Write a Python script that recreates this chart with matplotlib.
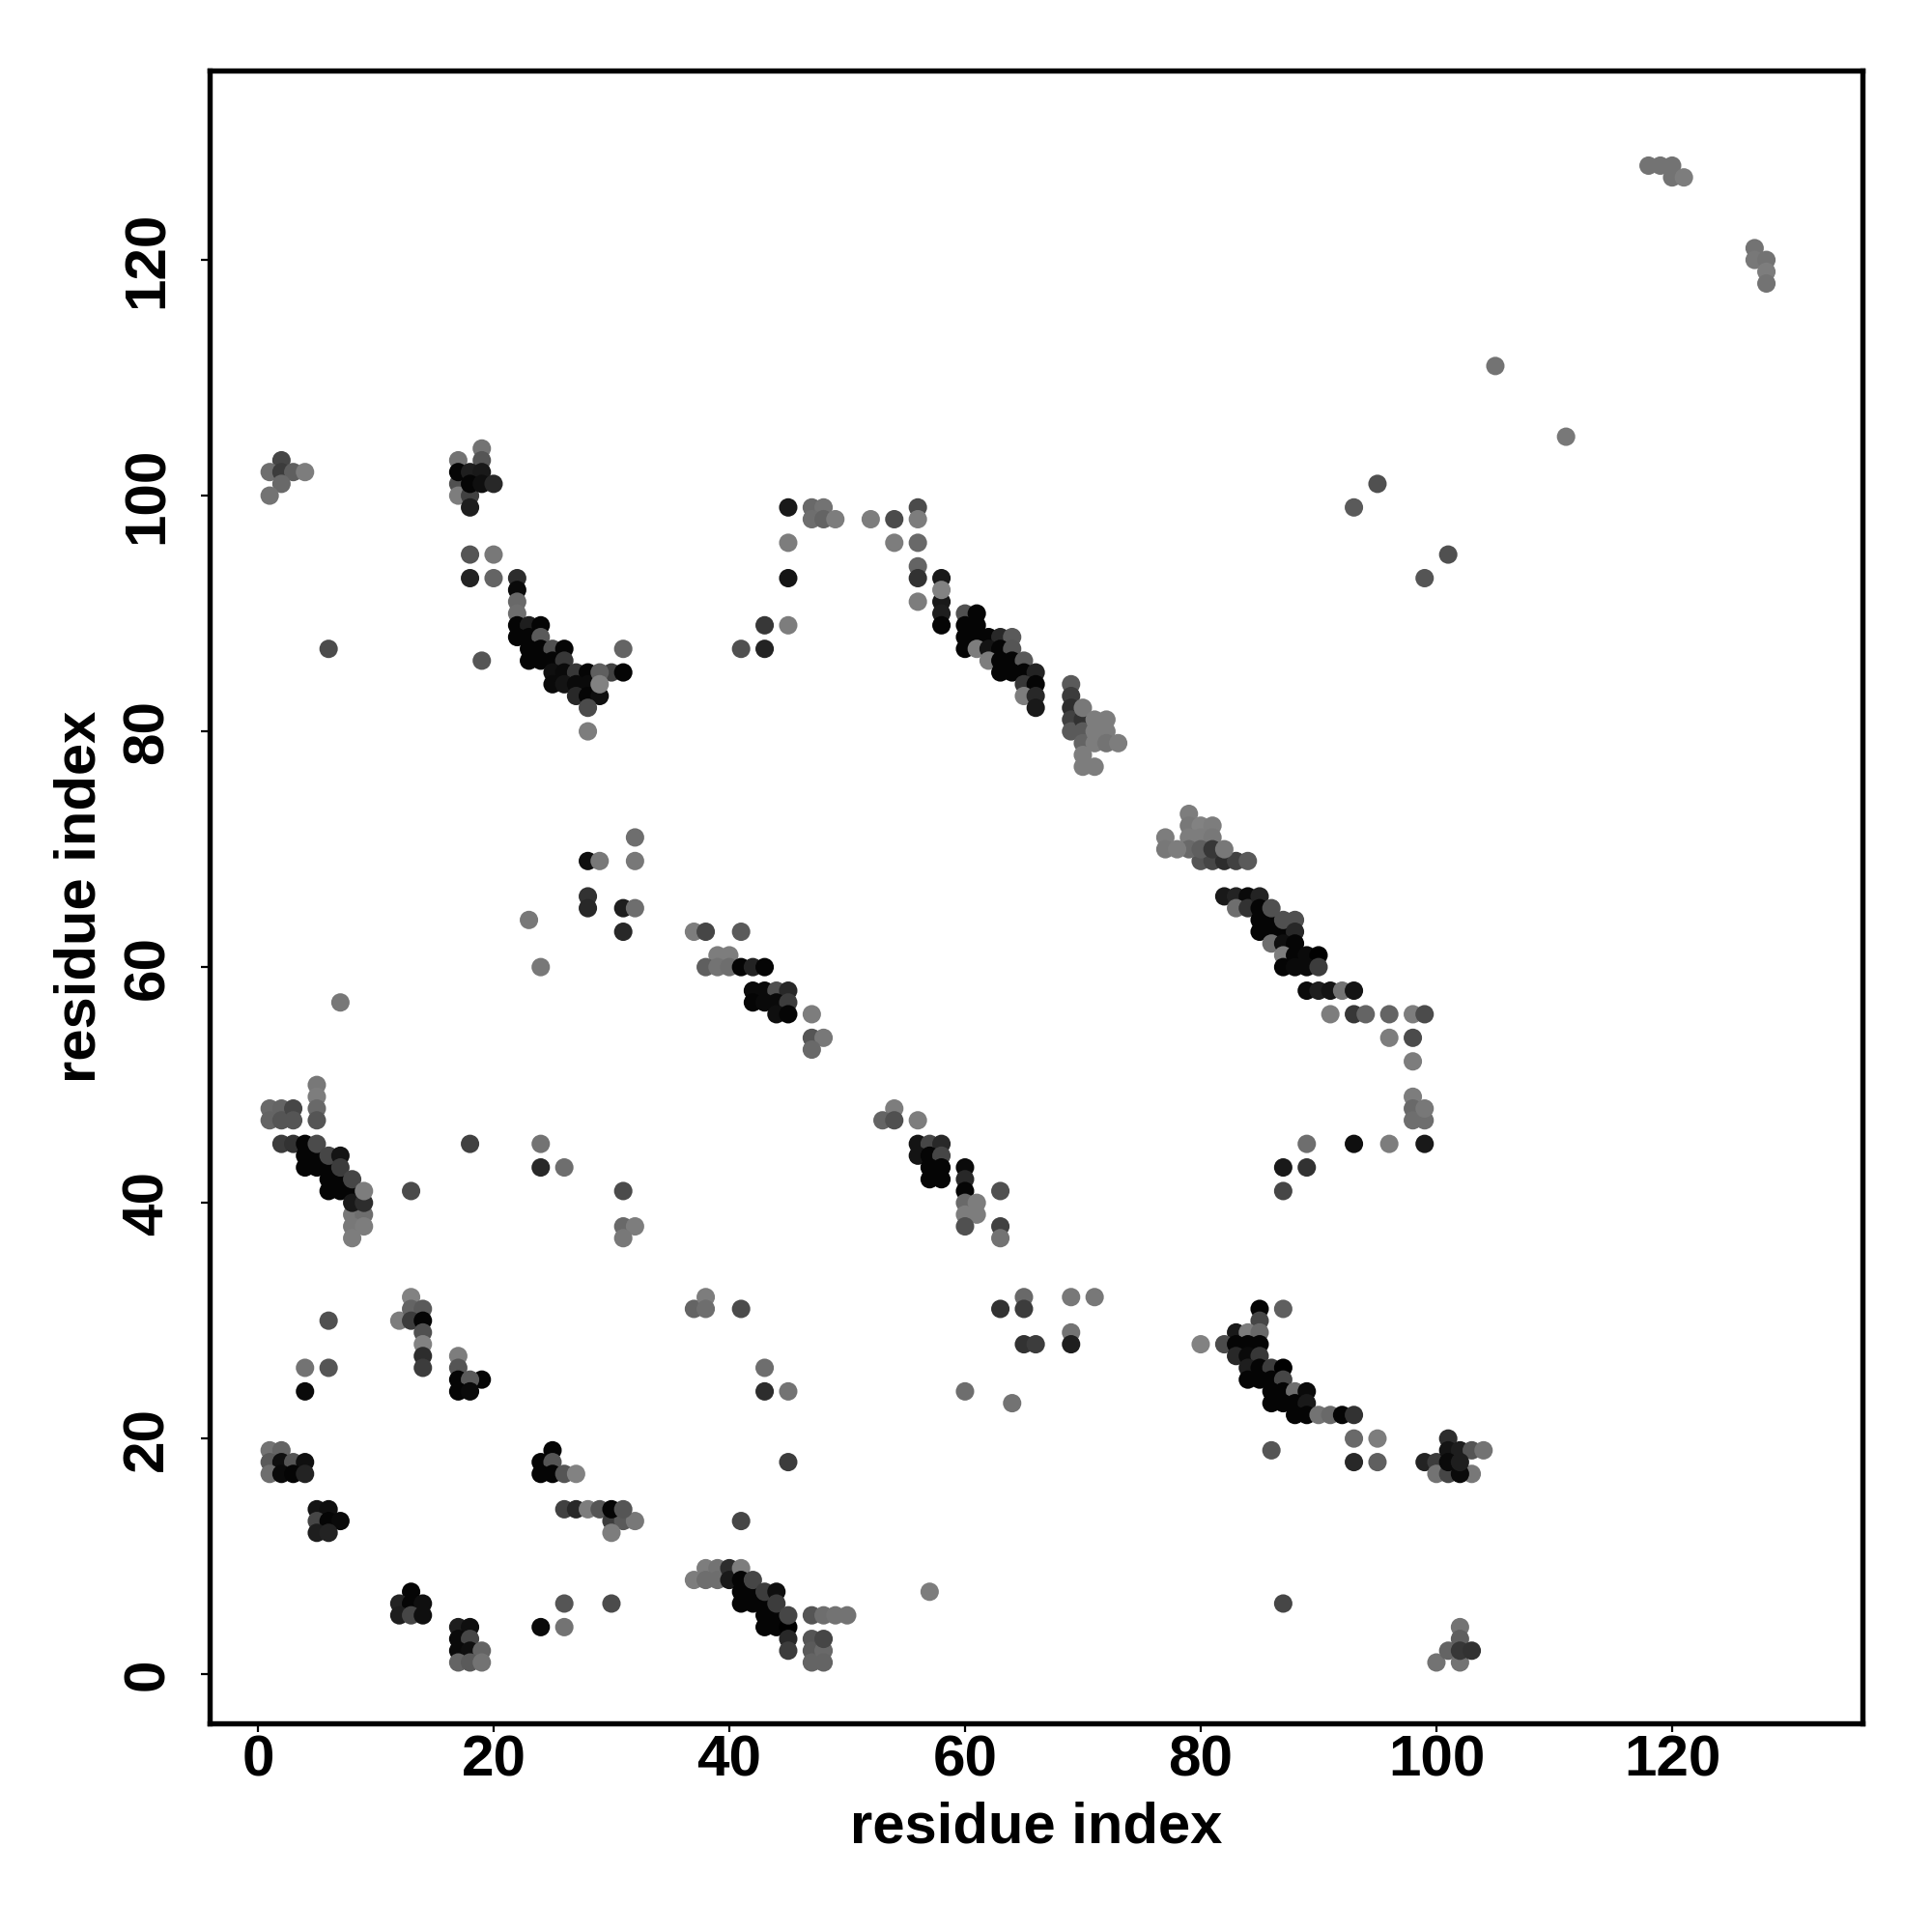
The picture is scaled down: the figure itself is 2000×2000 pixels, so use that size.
import numpy as np
import matplotlib
matplotlib.use("Agg")
import matplotlib.pyplot as plt

plt.rcParams['font.family'] = ['Liberation Sans', 'DejaVu Sans']
plt.rcParams['font.weight'] = 'bold'

# each entry: (residue i, residue j, grey level 0-255)
block_a = [(1,48,105),(1,47,100),(2,48,100),(2,47,85),(3,48,70),(3,47,85),(5,50,120),(5,49,125),(5,48,105),(5,47,85),
           (2,45,60),(3,45,50),(4,45,5),(4,44,5),(5,44,5),(4,43,5),(5,43,5),(6,43,5),(6,42,5),(7,42,5),(6,41,5),(7,41,5),(8,41,5),
           (5,45,75),(6,44,70),(7,44,20),(7,43,60),(8,42,70),(8,39,120),(9,39,110),(8,38,120),(9,38,125),(8,37,125),(8,40,25),(9,40,45),(9,41,125)]
block_b = [(13,41,75),(18,45,65),(24,45,115),(24,43,40),(26,43,110),(31,41,75),(31,38,105),(32,38,125),(31,37,120),
           (6,30,80),(12,30,125),(13,32,130),(13,31,100),(14,31,90),(13,30,60),(14,30,5),(14,29,80),(14,28,130),(14,27,45),(14,26,60),
           (4,26,115),(6,26,85),(4,24,10),(17,27,125),(17,26,85),(17,25,5),(19,25,5),(18,25,90),(17,24,5),(18,24,10)]
block_c = [(1,19,115),(2,19,100),(1,18,90),(2,18,15),(3,18,85),(4,18,15),(1,17,110),(2,17,10),(3,17,5),(4,17,35),
           (5,14,20),(6,14,15),(5,13,70),(6,13,5),(7,13,10),(5,12,30),(6,12,35),
           (13,7,5),(12,6,35),(13,6,5),(14,6,15),(12,5,30),(13,5,70),(14,5,15),
           (17,4,30),(18,4,15),(17,3,10),(18,3,70),(17,2,10),(18,2,15),(19,2,100),(17,1,100),(18,1,90),(19,1,115),
           (25,19,5),(24,18,5),(25,18,85),(24,17,5),(25,17,5),(26,17,85),(27,17,130),
           (26,14,65),(27,14,40),(28,14,125),(29,14,85),(30,13,60),(31,13,90),(32,13,120),(30,14,5),(31,14,85),(30,12,125),
           (26,6,85),(30,6,75),(24,4,10),(26,4,115)]
block_d = [(45,18,60),(41,13,70),(38,9,125),(39,9,115),(37,8,125),(38,8,110),(39,8,110),(40,9,45),(40,8,25),(41,9,125),
           (41,8,5),(41,7,5),(42,7,5),(41,6,5),(42,6,5),(43,6,5),(43,5,5),(44,5,5),(43,4,5),(44,4,5),(45,4,0),
           (42,8,70),(43,7,60),(44,7,15),(44,6,60),(45,5,70),(45,3,40),(45,2,60),
           (47,5,85),(48,5,110),(49,5,115),(50,5,115),(47,3,85),(47,2,90),(47,1,100),(48,2,105),(48,1,100),(48,3,70),(57,7,125)]
block_e = [(85,31,5),(87,31,95),(85,30,70),(83,29,25),(84,29,125),(85,29,105),(80,28,130),(82,28,75),(83,28,5),(84,28,5),(85,28,5),
           (83,27,40),(84,27,10),(85,27,55),(84,26,30),(85,26,5),(86,26,60),(87,26,0),(84,25,5),(85,25,5),(86,25,5),(87,25,70),
           (86,24,5),(87,24,5),(88,24,110),(89,24,10),(86,23,5),(87,23,5),(88,23,5),(89,23,25),(88,22,5),(89,22,5),
           (90,22,115),(91,22,105),(92,22,5),(93,22,50),(93,20,105),(95,20,125),(86,19,85),(93,18,40),(95,18,95)]
block_f = [(99,18,35),(100,18,60),(100,17,115),(101,17,70),(103,17,120),(102,17,10),(101,20,45),(101,19,20),(102,19,30),(103,19,85),(104,19,115),(101,18,10),(102,18,30),
           (87,6,70),(100,1,115),(101,2,100),(102,4,115),(102,3,95),(102,1,115),(102,2,55),(103,2,50)]
block_g = [(79,73,125),(79,72,120),(80,72,130),(81,72,125),(77,71,125),(79,71,125),(80,71,125),(81,71,120),
           (80,69,85),(81,69,70),(82,69,45),(83,69,65),(84,69,90),(79,70,105),(80,70,95),(81,70,55),(77,70,120),(78,70,125),(82,70,120),
           (82,66,25),(83,66,35),(84,66,10),(83,65,110),(84,65,50),(85,66,35),(85,65,5),(85,64,5),(86,64,5),(85,63,5),(86,63,5),(87,63,5),
           (86,65,80),(87,64,80),(88,64,80),(88,63,40),(86,62,110),(87,62,15),(88,62,5),(87,61,125),(88,61,5),(89,61,10),(90,61,0),
           (87,60,5),(88,60,10),(89,60,10),(90,60,60),(89,58,10),(90,58,30),(91,58,20),(92,58,115),(93,58,20),
           (91,56,125),(93,56,55),(94,56,100),(96,56,100),(98,56,125),(99,56,75),(96,54,125),(98,54,75),(98,52,125),
           (98,49,125),(98,48,105),(98,47,110),(99,47,110),(99,48,120),(96,45,125),(99,45,25),(93,45,15),
           (89,45,110),(89,43,50),(87,43,25),(87,41,70)]
block_h = [(56,99,75),(52,98,125),(54,98,75),(56,98,125),(54,96,125),(56,96,105),(56,94,100),(56,93,50),(56,91,125),
           (58,93,25),(58,91,25),(58,90,30),(58,89,5),(58,92,130),
           (60,90,80),(61,90,5),(60,89,5),(61,89,5),(60,88,5),(61,88,5),(62,88,5),(63,88,40),(64,88,90),(60,87,5),(61,87,125),(62,87,20),(63,87,5),(64,87,85),
           (62,86,125),(63,86,5),(64,86,5),(65,86,90),(63,85,5),(64,85,5),(65,85,5),(66,85,35),(65,84,55),(66,84,5),(65,83,125),(66,83,40),(66,82,25),
           (69,84,90),(69,83,60),(69,82,45),(69,81,65),(69,80,90),(70,81,50),(70,80,90),(70,82,120),(70,79,100),(70,78,125),(70,77,125),(71,77,125),
           (71,81,125),(71,80,125),(71,79,125),(72,81,125),(72,80,125),(72,79,115),(73,79,125)]
block_i = [(45,99,25),(47,99,105),(48,99,115),(47,98,110),(48,98,100),(49,98,125),(45,96,125),(45,93,20),(43,89,55),(45,89,125),(41,87,80),(43,87,35),
           (18,95,85),(20,95,120),(18,93,35),(20,93,100),(22,93,45),(22,92,10),(22,91,105),(22,90,110),(22,89,5),(23,89,30),(24,89,5),(22,88,5),(23,88,5),(24,88,90),
           (23,87,5),(24,87,5),(25,87,80),(26,87,5),(23,86,5),(24,86,5),(25,86,5),(26,86,55),(19,86,85),
           (25,85,15),(26,85,10),(27,85,55),(28,85,5),(25,84,10),(26,84,20),(27,84,10),(28,84,10),(27,83,40),(28,83,5),(29,83,15),(28,82,75),(28,80,125),
           (30,85,65),(31,85,5),(29,85,95),(29,84,130),(31,87,100)]
block_j = [(2,103,70),(1,102,110),(2,102,60),(3,102,95),(4,102,125),(2,101,105),(1,100,115),
           (19,104,115),(19,103,85),(17,103,115),(17,101,80),(17,100,125),(17,102,5),(18,102,30),(19,102,25),(18,100,65),(18,99,30),(18,101,5),(19,101,15),(20,101,40)]
block_k = [(37,63,125),(38,63,70),(41,63,90),(39,61,125),(40,61,125),(38,60,95),(39,60,115),(40,60,110),(41,60,5),(42,60,35),(43,60,5),
           (42,58,10),(43,58,10),(44,58,80),(45,58,40),(42,57,5),(43,57,10),(44,57,10),(45,57,60),(44,56,15),(45,56,5),(47,56,125),(47,54,85),(48,54,120),(47,53,105),
           (54,48,125),(53,47,100),(54,47,80),(56,47,125),(56,45,20),(57,45,70),(58,45,40),(56,44,20),(57,44,5),(58,44,70),(57,43,5),(58,43,5),(57,42,5),(58,42,5),
           (60,43,10),(60,42,40),(60,41,5),(63,41,80),(60,40,105),(61,40,125),(60,39,125),(61,39,125),(60,38,80),(63,38,65),(63,37,115)]
block_l = [(6,87,75),(7,57,120),(23,64,120),(24,60,120),(28,69,15),(29,69,120),(28,66,50),(28,65,40),(31,65,30),(32,65,110),(31,63,40),(32,71,110),(32,69,120),
           (41,31,75),(37,31,100),(38,32,125),(38,31,110),(43,26,110),(43,24,45),(45,24,115),(60,24,110),(64,23,115),(63,31,50),(65,32,105),(65,31,60),(65,28,50),(66,28,60),
           (69,32,120),(71,32,120),(69,29,115),(69,28,30),
           (118,128,115),(119,128,115),(120,128,115),(120,127,115),(121,127,125),(127,121,115),(127,120,120),(128,120,115),(128,119,125),(128,118,115),
           (105,111,115),(111,105,120),(93,99,90),(95,101,80),(99,93,85),(101,95,80)]

blocks = [block_a, block_b, block_c, block_d, block_e, block_f, block_g, block_h, block_i, block_j, block_k, block_l]
ticks = [0, 20, 40, 60, 80, 100, 120]
axis_label = "residue index"

pts = np.array([p for b in blocks for p in b], dtype=float)

fig = plt.figure(figsize=(10, 10), dpi=200, facecolor='white')
L, R, T, B = 216.7, 1928.0, 73.0, 1783.7
ax = fig.add_axes([L/2000, 1-B/2000, (R-L)/2000, (B-T)/2000])
ax.scatter(pts[:, 0], pts[:, 1], c=pts[:, 2]/255, cmap='gray', vmin=0, vmax=1,
           s=47, linewidths=0, clip_on=True, zorder=3)
ax.set_xlim(-4.12, 136.15)
ax.set_ylim(-4.14, 136.07)
ax.set_xticks(ticks)
ax.set_yticks(ticks)
ax.set_xticklabels([str(t) for t in ticks], fontsize=21.7, fontweight='bold')
ax.set_yticklabels([str(t) for t in ticks], fontsize=21.7, fontweight='bold', rotation=90, va='center')
ax.tick_params(axis='both', length=3.4, width=0.8, color='black', pad=0.8)
ax.tick_params(axis='y', pad=9.5)
for s in ax.spines.values():
    s.set_linewidth(1.95)
ax.set_xlabel(axis_label, fontsize=21.5, fontweight='bold', labelpad=5.2)
ax.set_ylabel(axis_label, fontsize=21.5, fontweight='bold', labelpad=5.4)
fig.savefig('out.png', dpi=200, facecolor='white')
